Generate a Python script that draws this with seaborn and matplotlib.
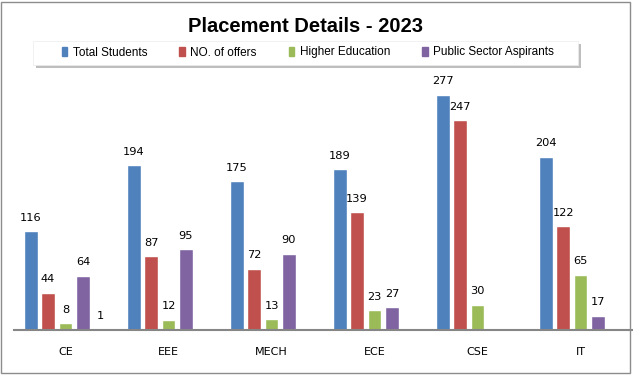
import numpy as np
import pandas as pd
import seaborn as sns
import matplotlib.pyplot as plt
from matplotlib.patches import Patch, Rectangle
import matplotlib.patheffects as pe

departments = ["CE", "EEE", "MECH", "ECE", "CSE", "IT"]
total_students = [116, 194, 175, 189, 277, 204]
offers = [44, 87, 72, 139, 247, 122]
higher_education = [8, 12, 13, 23, 30, 65]
public_sector = [64, 95, 90, 27, np.nan, 17]
# stray fifth series in the source sheet: only shows up as the "1" label on CE
extra = [1, np.nan, np.nan, np.nan, np.nan, np.nan]

series_names = ["Total Students", "NO. of offers", "Higher Education",
                "Public Sector Aspirants", "Series5"]
colors = ["#4F81BD", "#C0504D", "#9BBB59", "#8064A2", "#4BACC6"]

df = pd.DataFrame({
    "Department": departments,
    series_names[0]: total_students,
    series_names[1]: offers,
    series_names[2]: higher_education,
    series_names[3]: public_sector,
    series_names[4]: extra,
})
df = df.melt(id_vars="Department", var_name="Series", value_name="Count").dropna()

sns.set_style("white")
plt.rcParams["font.family"] = ["DejaVu Sans"]
plt.rcParams["text.color"] = "black"
plt.rcParams["xtick.color"] = "black"

fig = plt.figure(figsize=(6.33, 3.75), dpi=100)
ax = fig.add_axes([14 / 633, 45 / 375, 618 / 633, 255 / 375])

sns.barplot(data=df, x="Department", y="Count", hue="Series",
            order=departments, hue_order=series_names, palette=colors,
            saturation=1, width=0.845, gap=0.21, errorbar=None,
            legend=False, ax=ax)

for c in ax.containers:
    labels = [f"{v:.0f}" for v in c.datavalues]
    ax.bar_label(c, labels=labels, padding=6, fontsize=8.2, color="black")

ax.set_ylim(0, 300)
ax.set_yticks([])
ax.set_xlabel("")
ax.set_ylabel("")
for s in ["top", "right", "left"]:
    ax.spines[s].set_visible(False)
ax.spines["bottom"].set_color("#868686")
ax.spines["bottom"].set_linewidth(1.5)
ax.tick_params(axis="x", length=0, pad=12, labelsize=8, labelcolor="black")

# chart frame
fig.patches.append(Rectangle((1 / 633, 2 / 375), 629 / 633, 371 / 375,
                             transform=fig.transFigure, fill=False,
                             edgecolor="#8c8c8c", linewidth=1))

fig.text(305 / 633, 1 - 32 / 375, "Placement Details - 2023", ha="center",
         va="baseline", fontsize=14.5, fontweight="bold",
         family="Liberation Sans", color="black")

# legend box with shadow
fig.patches.append(Rectangle((33 / 633, 1 - 65 / 375), 545 / 633, 24 / 375,
                             transform=fig.transFigure, facecolor="white",
                             edgecolor="#ececec", linewidth=0.5,
                             path_effects=[pe.SimplePatchShadow(offset=(2.5, -2.5), shadow_rgbFace="#8a8a8a", alpha=0.55),
                                           pe.Normal()]))
handles = [Patch(color=c) for c in colors[:4]]
fig.legend(handles, series_names[:4], loc="center",
           bbox_to_anchor=(308 / 633, 1 - 52.5 / 375), ncol=4, frameon=False,
           prop={"family": "Liberation Sans", "size": 8.5},
           handlelength=0.45, handleheight=0.7, handletextpad=0.5,
           columnspacing=2.7)

fig.savefig("out.png", dpi=100)
